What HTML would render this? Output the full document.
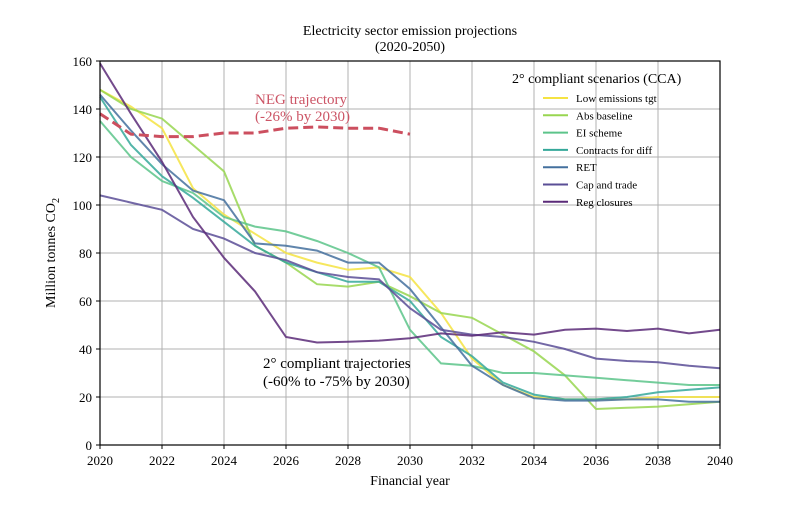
<!DOCTYPE html>
<html><head><meta charset="utf-8"><style>
body{margin:0;background:#fff;}
svg{font-family:"Liberation Serif",serif;}
</style></head><body>
<svg id="chart" width="800" height="500" xmlns="http://www.w3.org/2000/svg">
<rect x="0" y="0" width="800" height="500" fill="#fff"/>
<text x="410" y="35" text-anchor="middle" font-size="14">Electricity sector emission projections</text>
<text x="410" y="51" text-anchor="middle" font-size="14">(2020-2050)</text>
<g id="grid"></g><g id="series"></g><g id="axes"></g><g id="legend"></g>
<text x="255" y="104" font-size="15" fill="#cc5566">NEG trajectory</text>
<text x="255" y="121" font-size="15" fill="#cc5566">(-26% by 2030)</text>
<text x="263" y="368" font-size="15">2° compliant trajectories</text>
<text x="263" y="386" font-size="15">(-60% to -75% by 2030)</text>
<text x="410" y="485" text-anchor="middle" font-size="14">Financial year</text>
<text transform="translate(55,253) rotate(-90)" text-anchor="middle" font-size="14">Million tonnes CO<tspan font-size="10" dy="4">2</tspan></text>
</svg>
<script>
const years=[2020,2021,2022,2023,2024,2025,2026,2027,2028,2029,2030,2031,2032,2033,2034,2035,2036,2037,2038,2039,2040];
const xTicks=[2020,2022,2024,2026,2028,2030,2032,2034,2036,2038,2040];
const yTicks=[0,20,40,60,80,100,120,140,160];
const seriesNames=["Low emissions tgt","Abs baseline","EI scheme","Contracts for diff","RET","Cap and trade","Reg closures"];
const seriesColors=["#f5e342","#98d650","#5cc48a","#35a89a","#44709e","#5a4e96","#5a2a78"];
const lowEmissions=[148,141,132,107,96,88,80,76,73,74,70,55,36,25,20,19,19,19,20,20,20];
const absBaseline=[148,140,136,125,114,83,76,67,66,68,62,55,53,46,39,29,15,15.5,16,17,18];
const eiScheme=[135,120,110,105,95,91,89,85,80,74,48,34,33,30,30,29,28,27,26,25,25];
const contracts=[145,125,112,103,93,83,76,72,68,68,60,45,37,26,21,19,19,20,22,23,24];
const ret=[146,131,117,106,102,84,83,81,76,76,65,49,33,25,19.5,18.5,18.5,19,19,18,18];
const capTrade=[104,101,98,90,86,80,77,72,70,69,57,48,46,45,43,40,36,35,34.5,33,32];
const regClosures=[159,138,118,95,78,64,45,42.7,43,43.5,44.5,46.5,45.5,47,46,48,48.5,47.5,48.5,46.5,48];
const negYears=[2020,2021,2022,2023,2024,2025,2026,2027,2028,2029,2030];
const negValues=[138,129.5,128.5,128.5,130,130,132,132.5,132,132,129.5];
const allSeries=[lowEmissions,absBaseline,eiScheme,contracts,ret,capTrade,regClosures];

const X0=100,X1=720,Y0=445,Y1=61;
const xs=v=>X0+(v-2020)/20*(X1-X0);
const ys=v=>Y0-v/160*(Y0-Y1);
const NS="http://www.w3.org/2000/svg";
function mk(tag,parent,attrs){const e=document.createElementNS(NS,tag);for(const k in attrs)e.setAttribute(k,attrs[k]);parent.appendChild(e);return e;}
const grid=document.getElementById('grid'),axes=document.getElementById('axes'),ser=document.getElementById('series'),leg=document.getElementById('legend');
xTicks.forEach(t=>{
  const l=mk('line',grid,{x1:xs(t),x2:xs(t),y1:Y1,y2:Y0,stroke:'#b0b0b0','stroke-width':1});
  
  
  const tx=mk('text',axes,{x:xs(t),y:Y0+20,'text-anchor':'middle','font-size':13});
  tx.textContent=t;
  
  
  mk('line',axes,{x1:xs(t),x2:xs(t),y1:Y0,y2:Y0+4,stroke:'#000'});
});
yTicks.forEach(t=>{
  const l=mk('line',grid,{x1:X0,x2:X1,y1:ys(t),y2:ys(t),stroke:'#b0b0b0','stroke-width':1});
  
  
  const tx=mk('text',axes,{x:X0-8,y:ys(t)+5,'text-anchor':'end','font-size':13});
  tx.textContent=t;
  
  
  mk('line',axes,{x1:X0-4,x2:X0,y1:ys(t),y2:ys(t),stroke:'#000'});
});
const frame=mk('rect',axes,{x:X0,y:Y1,width:X1-X0,height:Y0-Y1,fill:'none',stroke:'#000','stroke-width':1.2});


allSeries.forEach((s,i)=>{
  const p=mk('polyline',ser,{points:s.map((v,j)=>xs(years[j])+','+ys(v)).join(' '),fill:'none',stroke:seriesColors[i],'stroke-width':2,'stroke-opacity':0.85});
  
  
});
const neg=mk('polyline',ser,{points:negValues.map((v,j)=>xs(negYears[j])+','+ys(v)).join(' '),fill:'none',stroke:'#cc4f5f','stroke-width':3,'stroke-dasharray':'10,5'});


const lt=mk('text',leg,{x:512,y:83,'font-size':14});
lt.textContent='2° compliant scenarios (CCA)';


seriesNames.forEach((n,i)=>{
  const y=98+i*17.3;
  const g=mk('g',leg,{});
  
  
  mk('line',g,{x1:543,x2:568,y1:y,y2:y,stroke:seriesColors[i],'stroke-width':2});
  const t=mk('text',g,{x:576,y:y+4,'font-size':11});
  t.textContent=n;
});
</script>
</body></html>
